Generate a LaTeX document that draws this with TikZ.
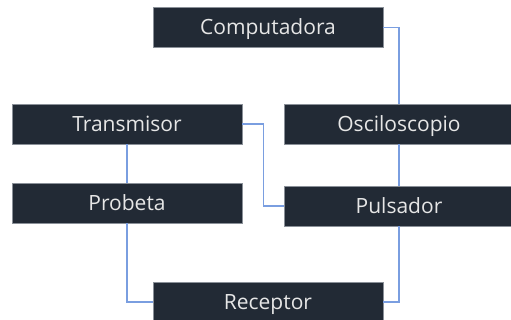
\documentclass[tikz,border=0pt]{standalone}
\usepackage{fontspec}
\setmainfont{Open Sans}
\usepackage{tikz}
\usetikzlibrary{positioning, calc}
\definecolor{boxfill}{HTML}{222A35}
\definecolor{boxedge}{HTML}{8A9098}
\definecolor{boxtext}{HTML}{E6E6E6}
\definecolor{wire}{HTML}{7A9EE0}
\tikzset{
	block/.style={draw=boxedge, line width=0.6pt, fill=boxfill, text=boxtext,
		minimum width=230pt, minimum height=40pt, inner sep=0pt,
		text height=17pt, text depth=2pt,
		font=\fontsize{21}{23}\selectfont}
}
\tikzset{
	link/.style={draw=wire, line width=1.6pt}
}

\begin{document}
\begin{tikzpicture}[x=1pt, y=-1pt]
      \useasboundingbox (0,0) rectangle (511,320);
      \node[block] (comp) at (268,27.5) {Computadora};
      \node[block] (trans) at (127,124) {Transmisor};
      \node[block] (osc) at (399,124) {Osciloscopio};
      \node[block] (prob) at (127,203) {Probeta};
      \node[block] (puls) at (399,206) {Pulsador};
      \node[block] (rec) at (268,302) {Receptor};
      \draw[link] (comp.east) -| (osc.north);
      \draw[link] (osc.south) -- (puls.north);
      \draw[link] (trans.east) -- ++(21,0) |- (puls.west);
      \draw[link] (trans.south) -- (prob.north);
      \draw[link] (prob.south) |- (rec.west);
      \draw[link] (puls.south) |- (rec.east);
    \end{tikzpicture}
\end{document}
